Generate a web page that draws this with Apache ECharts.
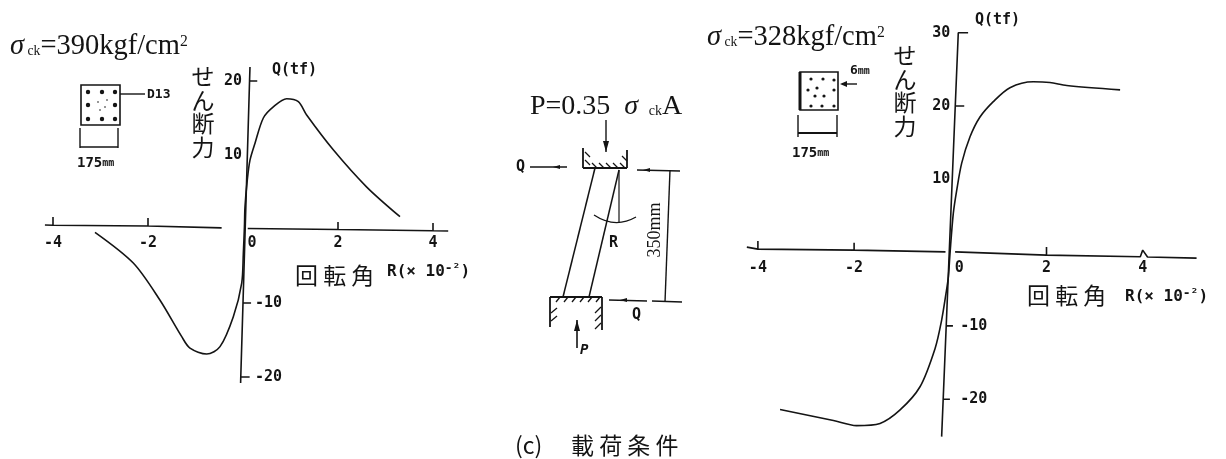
<!DOCTYPE html>
<html><head><meta charset="utf-8">
<style>html,body{margin:0;padding:0;background:#fff}#c{width:1226px;height:459px}</style>
<script src="https://cdn.jsdelivr.net/npm/echarts@6/dist/echarts.min.js"></script>
</head><body><div id="c"></div>
<script>
// rotation angle R (x10^-2), shear Q (tf)
const leftCurve = [[-3.116,-0.45],[-2.31,-4.6],[-1.75,-9.6],[-1.29,-14.55],[-1.116,-16.1],[-0.764,-16.9],[-0.484,-15.9],[-0.204,-11.85],[-0.027,-7.3],[0.007,-3.3],[0.03,0.3],[0.042,3.0],[0.09,6.6],[0.147,9.3],[0.253,11.6],[0.428,15.0],[0.638,16.5],[0.92,17.6],[1.165,17.2],[1.34,15.4],[1.9,10.7],[2.6,5.7],[3.305,1.66]];
const rightCurve = [[-3.54,-21.4],[-2.43,-22.9],[-1.95,-23.6],[-1.46,-23.3],[-1.05,-21.5],[-0.63,-18.3],[-0.318,-13.1],[-0.18,-9.2],[-0.09,-5.6],[-0.04,-3.3],[-0.006,-0.1],[0.0624,5.35],[0.133,8.5],[0.237,12.2],[0.41,15.8],[0.617,18.5],[0.894,20.6],[1.24,22.5],[1.726,23.3],[2.07,23.2],[2.42,22.8],[3.53,22.2]];
// the scanned axes lean slightly; these traces follow them, with their tick nubs
const leftXTrace = [[-4.17,0.54],[-4,0.5],[-4,1.62],[-4,0.5],[-2,0.4],[-2,1.49],[-2,0.4],[-0.45,0.15],[null,null],[0.1,0.07],[2,-0.07],[2,0.95],[2,-0.07],[4,-0.23],[4,0.81],[4,-0.23],[4.32,-0.27]];
const leftYTrace = [[0.147,21.9],[0.138,20],[0.3,20],[0.138,20],[0,-10],[0.17,-10],[0,-10],[-0.047,-20],[0.14,-20],[-0.047,-20],[-0.05,-20.8]];
const rightXTrace = [[-4.23,0.75],[-4,0.48],[-4,1.6],[-4,0.48],[-2,0.34],[-2,1.34],[-2,0.34],[-0.1,0.1],[null,null],[0.1,0.1],[2,-0.34],[2,0.75],[2,-0.34],[3.95,-0.57],[4,0.34],[4.1,-0.6],[5.12,-0.75]];
const rightYTrace = [[0.166,30],[0.37,30],[0.166,30],[0.103,20],[0.29,20],[0.103,20],[-0.085,-10],[0.055,-10],[-0.085,-10],[-0.148,-20],[-0.008,-20],[-0.148,-20],[-0.18,-25.1]];
const xTicks = [-4,-2,0,2,4];
const leftPosTicks = [10,20];
const rightPosTicks = [10,20,30];
const negTicks = [-20,-10];

const INK='#141414', MONO='"DejaVu Sans Mono"', SERIF='"Liberation Serif"', CJK='"Noto Sans CJK JP"';
const hiddenLine={show:false,onZero:false};
function xAx(gridIndex,min,max,margin,offset){return {type:'value',gridIndex,min,max,position:'bottom',offset,splitLine:{show:false},axisLine:hiddenLine,axisTick:{show:false},
  axisLabel:{customValues:xTicks,margin,color:INK,fontFamily:MONO,fontSize:15,fontWeight:'bold',formatter:v=>v===0?'  0':String(v)}};}
function yAx(gridIndex,min,max,vals,inside,margin,offset){return {type:'value',gridIndex,min,max,position:'left',offset,splitLine:{show:false},axisLine:hiddenLine,axisTick:{show:false},
  axisLabel:{customValues:vals,inside,margin,color:INK,fontFamily:MONO,fontSize:15,fontWeight:'bold'}};}
function ln(name,data,xi,yi,w,smooth){return {name,type:'line',data,xAxisIndex:xi,yAxisIndex:yi,showSymbol:false,symbol:'none',silent:true,clip:false,smooth:smooth||false,connectNulls:false,lineStyle:{color:INK,width:w},animation:false};}

const g=[];
const S=(x1,y1,x2,y2,w)=>g.push({type:'line',silent:true,shape:{x1,y1,x2,y2},style:{stroke:INK,lineWidth:w||1.4}});
const T=(x,y,text,font,size,extra)=>g.push(Object.assign({type:'text',silent:true,x,y,style:Object.assign({text,fill:INK,fontFamily:font,fontSize:size,verticalAlign:'middle',align:'left'},extra||{})}));
const D=(x,y,r)=>g.push({type:'circle',silent:true,shape:{cx:x,cy:y,r},style:{fill:INK}});
const Tri=(pts)=>g.push({type:'polygon',silent:true,shape:{points:pts},style:{fill:INK}});
function sigma(x,y,rest,size,after){T(x,y,'{s|σ}{c| ck}{r|'+rest+'}'+(after||''),SERIF,size,{rich:{s:{fontFamily:SERIF,fontStyle:'italic',fontSize:size,fill:INK},c:{fontFamily:SERIF,fontSize:size*0.48,fill:INK,padding:[8,0,0,0]},r:{fontFamily:SERIF,fontSize:size,fill:INK},u:{fontFamily:SERIF,fontSize:size*0.55,fill:INK,padding:[0,0,10,0]}}});}

// titles
sigma(10,47,'=390kgf/cm',28.5,'{u|2}');
sigma(707,38,'=328kgf/cm',28.5,'{u|2}');
T(530,107,'{r|P=0.35  }{s|σ}{c|   ck}{r|A}',SERIF,28,{rich:{s:{fontFamily:SERIF,fontStyle:'italic',fontSize:28,fill:INK},c:{fontFamily:SERIF,fontSize:14,fill:INK,padding:[8,0,0,0]},r:{fontFamily:SERIF,fontSize:28,fill:INK}}});

// axis captions
const caption='せ\nん\n断\n力';
T(203,112,caption,CJK,23,{align:'center',lineHeight:23.5});
T(905,91,caption,CJK,23,{align:'center',lineHeight:23.5});
T(295,275,'回 転 角',CJK,23);
T(1027,295,'回 転 角',CJK,23);
const rRich={a:{fontFamily:MONO,fontSize:16,fontWeight:'bold',fill:INK},b:{fontFamily:MONO,fontSize:13,fontWeight:'bold',fill:INK,padding:[0,0,6,0]}};
T(387,272,'{a|R(× 10}{b|-²}{a|)}',MONO,16,{rich:rRich});
T(1125,297,'{a|R(× 10}{b|-²}{a|)}',MONO,16,{rich:rRich});
T(272,70,'Q(tf)',MONO,15,{fontWeight:'bold'});
T(975,20,'Q(tf)',MONO,15,{fontWeight:'bold'});

// left section inset
g.push({type:'rect',silent:true,shape:{x:81,y:85,width:39,height:40},style:{fill:'none',stroke:INK,lineWidth:1.6}});
[[88,92],[102,92],[115,92],[88,105],[115,105],[88,119],[102,119],[115,119]].forEach(p=>D(p[0],p[1],2.2));
[[98,102],[107,100],[100,110],[105,107]].forEach(p=>D(p[0],p[1],0.8));
S(120,94,145,94);
T(147,95,'D13',MONO,13,{fontWeight:'bold'});
S(80,128,80,148);S(80,147,118,147);S(118,128,118,148);
const mmRich={a:{fontFamily:MONO,fontSize:14,fontWeight:'bold',fill:INK},b:{fontFamily:MONO,fontSize:10,fontWeight:'bold',fill:INK}};
T(77,163,'{a|175}{b|mm}',MONO,14,{rich:mmRich});

// right section inset
g.push({type:'rect',silent:true,shape:{x:800,y:72,width:38,height:38},style:{fill:'none',stroke:INK,lineWidth:1.6}});
S(800,72,800,110,3);
[[811,79],[823,79],[834,80],[808,90],[817,88],[834,90],[815,96],[824,96],[811,106],[822,106],[834,106]].forEach(p=>D(p[0],p[1],1.6));
S(857,84,842,84);Tri([[840,84],[847,81],[847,87]]);
T(850,71,'{a|6}{b|mm}',MONO,13,{rich:{a:{fontFamily:MONO,fontSize:13,fontWeight:'bold',fill:INK},b:{fontFamily:MONO,fontSize:10,fontWeight:'bold',fill:INK}}});
S(798,115,798,137);S(837,115,837,137);S(798,133,837,133,2);
T(792,153,'{a|175}{b|mm}',MONO,14,{rich:mmRich});

// loading diagram
S(606,120,606,152);Tri([[606,152],[603,141],[609,141]]);
S(583,168,627,168,1.8);S(583,148,583,168,1.8);S(627,150,627,168,1.8);
[[585,152],[585,160],[592,163],[599,163],[606,163],[613,163],[620,163],[622,156]].forEach(p=>S(p[0],p[1],p[0]+5,p[1]+5,1.3));
S(530,167,567,167);Tri([[553,167],[560,165],[560,169]]);
T(516,167,'Q',MONO,15,{fontWeight:'bold'});
S(637,170,680,171,1.5);Tri([[643,170],[650,168],[650,172]]);
S(595,168,563,297,1.5);S(619,170,589,297,1.5);
S(619,170,619,223,1.2);
g.push({type:'bezierCurve',silent:true,shape:{x1:594,y1:215,cpx1:615,cpy1:229,x2:636,y2:217},style:{fill:'none',stroke:INK,lineWidth:1.3}});
T(609,243,'R',MONO,15,{fontWeight:'bold'});
S(670,170,665,302,1.4);
g.push({type:'text',silent:true,x:655,y:230,rotation:Math.PI/2,style:{text:'350mm',fill:INK,fontFamily:SERIF,fontSize:18,align:'center',verticalAlign:'middle'}});
S(550,297,602,297,1.8);S(550,297,550,327,1.8);S(602,297,602,330,1.8);
[[556,302],[564,302],[572,302],[580,302],[588,302],[596,302]].forEach(p=>S(p[0],p[1],p[0]+4,p[1]-5,1.3));
[[551,313],[551,321]].forEach(p=>S(p[0],p[1],p[0]+6,p[1]-5,1.3));
[[595,313],[595,321],[595,329]].forEach(p=>S(p[0],p[1],p[0]+6,p[1]-6,1.3));
S(609,300,647,301,1.5);S(652,301,682,302,1.5);Tri([[620,300],[627,298],[627,302]]);
T(632,315,'Q',MONO,15,{fontWeight:'bold'});
S(577,320,577,348,1.6);Tri([[577,320],[574,331],[580,331]]);
T(580,350,'P',MONO,14,{fontWeight:'bold',fontStyle:'italic'});
T(515,445,'(c)',CJK,23);
T(571,445,'載 荷 条 件',CJK,23);

const option={
  animation:false,backgroundColor:'#fff',
  grid:[{left:5.5,top:44,width:475,height:370,outerBoundsMode:'none'},{left:709.8,top:32.7,width:529.1,height:410.5,outerBoundsMode:'none'}],
  xAxis:[xAx(0,-5,5,7,-185),xAx(1,-5,6,8,-190.7)],
  yAxis:[yAx(0,-25,25,leftPosTicks,false,1,-237.5),yAx(0,-25,25,negTicks,true,12,-237.5),yAx(1,-26,30,rightPosTicks,false,0,-240.5),yAx(1,-26,30,negTicks,true,10,-240.5)],
  series:[ln('左 せん断力',leftCurve,0,0,1.6,0.3),ln('左 x軸',leftXTrace,0,0,1.6),ln('左 y軸',leftYTrace,0,0,1.6),
          ln('右 せん断力',rightCurve,1,2,1.6,0.3),ln('右 x軸',rightXTrace,1,2,1.6),ln('右 y軸',rightYTrace,1,2,1.6)],
  graphic:{elements:g}
};
echarts.init(document.getElementById('c'),null,{renderer:'canvas'}).setOption(option);
</script></body></html>
